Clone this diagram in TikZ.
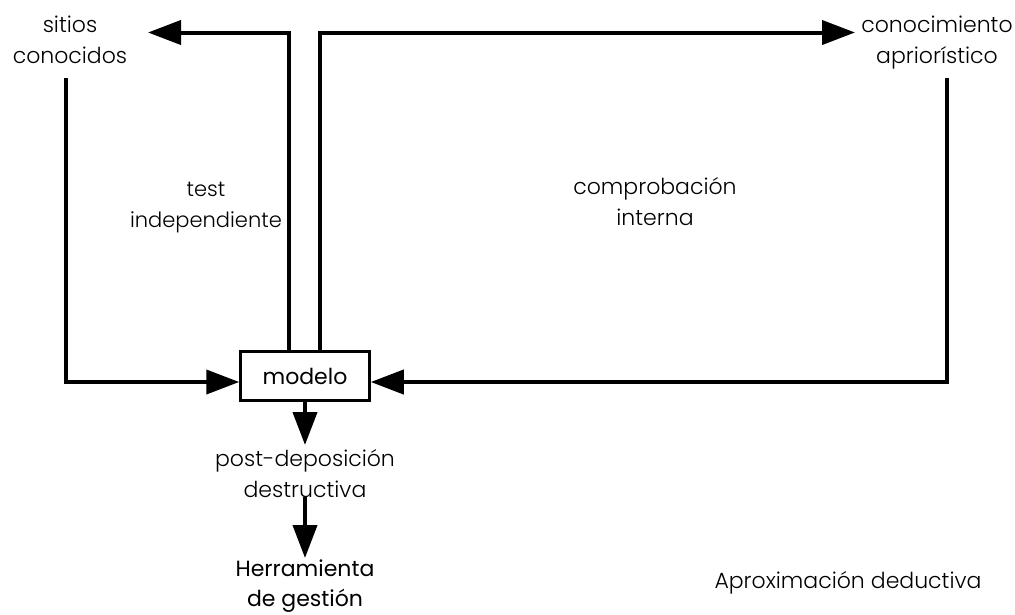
\documentclass[tikz,border=0pt]{standalone}
\usepackage{fontspec}
\setmainfont{Poppins}
\newfontfamily\lightfont{Poppins Light}
\usetikzlibrary{arrows.meta}
\begin{document}
\begin{tikzpicture}[x=1pt,y=-1pt,
  conn/.style={line width=4pt, -{Triangle[length=33pt,width=24pt]}},
  lbl/.style={font=\lightfont\fontsize{22}{31}\selectfont, align=center, inner sep=0pt, anchor=base},
  boldlbl/.style={font=\fontsize{22}{30}\selectfont, align=center, inner sep=0pt, anchor=base},
  box/.style={draw, line width=2.5pt, minimum width=129pt, minimum height=49pt, inner sep=0pt, font=\fontsize{22}{26}\selectfont}
  ]
\useasboundingbox (0,0) rectangle (1015,614);
\node[box] (m) at (305,376) {modelo};
\node[lbl] (sit) at (70,63) {sitios\\conocidos};
\node[lbl] (con) at (937,63) {conocimiento\\apriorístico};
\node[lbl, font=\lightfont\fontsize{21}{31}\selectfont] (test) at (206,227) {test\\independiente};
\node[lbl] (comp) at (655,225) {comprobación\\interna};
\node[lbl] (pd) at (305,497) {post-deposición\\destructiva};
\node[boldlbl] (her) at (305,606) {Herramienta\\de gestión};
\node[lbl] (apr) at (848,588) {Aproximación deductiva};
\coordinate (tipL) at (148,32.5);
\coordinate (tipR) at (855,32.5);
\coordinate (sL) at (66,78);
\coordinate (sR) at (947,78);
\coordinate (d1) at (305,445);
\coordinate (d2a) at (305,497);
\coordinate (d2b) at (305,558);
\draw[conn] ([xshift=-16pt]m.north) |- (tipL);
\draw[conn] ([xshift=15pt]m.north) |- (tipR);
\draw[conn] (sL) |- ([yshift=-6pt]m.west);
\draw[conn] (sR) |- ([yshift=-6pt]m.east);
\draw[conn] (m.south) -- (d1);
\draw[conn] (d2a) -- (d2b);
\end{tikzpicture}
\end{document}
